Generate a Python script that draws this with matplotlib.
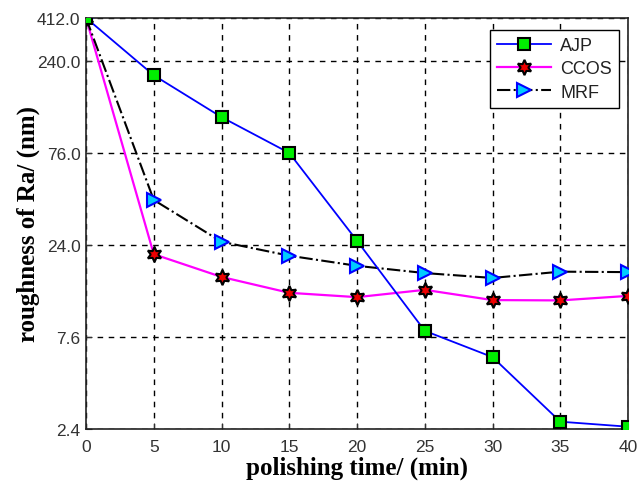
import matplotlib
matplotlib.use("Agg")
import matplotlib.pyplot as plt
from matplotlib.ticker import NullLocator

time = [0, 5, 10, 15, 20, 25, 30, 35, 40]
ajp = [412, 201, 119, 76, 25.3, 8.2, 5.9, 2.63, 2.47]
ccos = [412, 21.4, 16.1, 13.2, 12.5, 13.7, 12.05, 12.0, 12.7]
mrf = [412, 42.2, 25.0, 21.0, 18.5, 16.9, 15.9, 17.2, 17.1]

yticks = [2.4, 7.6, 24.0, 76.0, 240.0, 412.0]
ytick_labels = ["2.4", "7.6", "24.0", "76.0", "240.0", "412.0"]
xticks = [0, 5, 10, 15, 20, 25, 30, 35, 40]

fig = plt.figure(figsize=(6.37, 4.85), dpi=100)
ax = fig.add_axes([0.135, 0.1134, 0.851, 0.8476])

ax.plot(time, ajp, color="#0000ff", lw=1.3, marker="s", ms=8,
        mfc="#00ee00", mec="black", mew=1.5, label="AJP", zorder=4)
ax.plot(time, ccos, color="#ff00ff", lw=1.6, marker=(6, 1, 0), ms=11,
        mfc="#ee0000", mec="black", mew=1.5, label="CCOS", zorder=3)
ax.plot(time, mrf, color="black", lw=1.5, ls="-.", marker=">", ms=10,
        mfc="#00ccff", mec="#0000ff", mew=1.5, label="MRF", zorder=3)

ax.set_yscale("log")
ax.set_xlim(0, 40)
ax.set_ylim(2.4, 412)
ax.set_yticks(yticks)
ax.set_yticklabels(ytick_labels)
ax.yaxis.set_minor_locator(NullLocator())
ax.set_xticks(xticks)
ax.set_xticklabels([str(t) for t in xticks])
ax.tick_params(direction="in", length=4, labelsize=12.5, colors="#333333",
               labelcolor="#333333", pad=4)
ax.tick_params(axis="x", pad=7)
for lab in ax.get_xticklabels() + ax.get_yticklabels():
    lab.set_family("Liberation Sans")

ax.grid(True, which="major", ls=(0, (4, 4)), color="black", lw=1.0)
for s in ax.spines.values():
    s.set_linewidth(1.2)
    s.set_color("#222222")

ax.set_xlabel("polishing time/ (min)", fontsize=18, fontweight="bold",
              family="Liberation Serif", labelpad=1)
ax.set_ylabel("roughness of Ra/ (nm)", fontsize=18, fontweight="bold",
              family="Liberation Serif", labelpad=-2)

leg = ax.legend(loc="upper right", bbox_to_anchor=(0.99, 0.98),
                prop={"family": "Liberation Sans", "size": 13},
                fancybox=False, framealpha=1, edgecolor="black",
                handlelength=3, borderaxespad=0.2, labelspacing=0.35,
                borderpad=0.4, handletextpad=0.5)
leg.get_frame().set_linewidth(1.0)
for t in leg.get_texts():
    t.set_color("#222222")

fig.savefig("out.png", dpi=100)
